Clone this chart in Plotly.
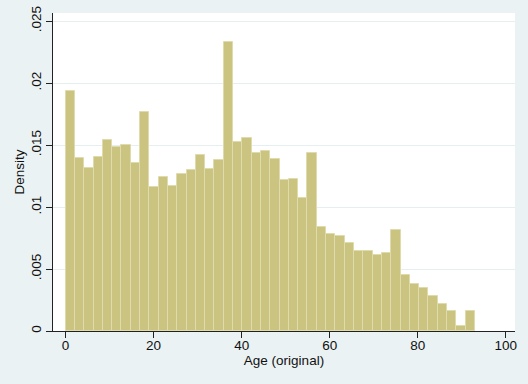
import plotly.graph_objects as go

# Histogram data: density per bin, bins start at 0 with equal width
bin_start = 0.0
bin_width = 93.0 / 44
density = [
    0.01932, 0.01395, 0.01314, 0.01400, 0.01540, 0.01484, 0.01502, 0.01355,
    0.01766, 0.01161, 0.01242, 0.01170, 0.01269, 0.01301, 0.01419, 0.01309,
    0.01381, 0.02335, 0.01524, 0.01553, 0.01438, 0.01448, 0.01387, 0.01220,
    0.01226, 0.01073, 0.01435, 0.00836, 0.00779, 0.00763, 0.00712, 0.00648,
    0.00648, 0.00613, 0.00629, 0.00817, 0.00452, 0.00376, 0.00344, 0.00285,
    0.00218, 0.00161, 0.00040, 0.00161,
]
x_ticks = [0, 20, 40, 60, 80, 100]
y_ticks = [0, 0.005, 0.01, 0.015, 0.02, 0.025]
y_ticklabels = ["0", ".005", ".01", ".015", ".02", ".025"]

centers = [bin_start + (i + 0.5) * bin_width for i in range(len(density))]

fig = go.Figure()
fig.add_trace(go.Bar(
    x=centers, y=density, width=bin_width,
    marker=dict(color="rgb(203,196,128)",
                line=dict(color="rgb(224,219,172)", width=1)),
    hoverinfo="x+y",
))

font = dict(family="Arial, Liberation Sans, sans-serif", size=13.5, color="#111")

fig.update_layout(
    width=528, height=384,
    margin=dict(l=53, r=13, t=13, b=53, autoexpand=False),
    paper_bgcolor="#EAF2F3",
    plot_bgcolor="white",
    font=font,
    showlegend=False,
    bargap=0,
    xaxis=dict(
        range=[-2.86, 102.1], tickvals=x_ticks, ticks="outside", ticklen=6,
        tickcolor="#222", showline=True, linecolor="#222", linewidth=1,
        showgrid=False, zeroline=False, tickfont=font, automargin=False,
        ticklabelstandoff=-4,
        title=dict(text="Age (original)", font=font, standoff=0),
    ),
    yaxis=dict(
        range=[0, 0.02565], tickvals=y_ticks, ticktext=y_ticklabels,
        tickangle=-90, ticks="outside", ticklen=6, tickcolor="#222",
        showline=True, linecolor="#222", linewidth=1,
        showgrid=True, gridcolor="#E6EFF0", gridwidth=1, zeroline=False,
        tickfont=font, automargin=False,
        title=dict(text="Density", font=font, standoff=0),
    ),
)

fig.write_html(
    "out.html",
    config={"displayModeBar": False},
    post_script="document.body.style.margin='0';document.body.style.overflow='hidden';",
)
